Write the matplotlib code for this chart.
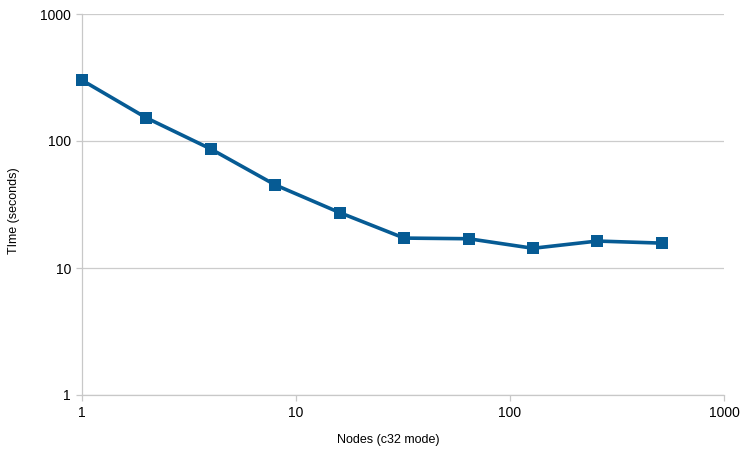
import matplotlib
matplotlib.use("Agg")
import matplotlib.pyplot as plt
from matplotlib.ticker import FixedLocator, NullLocator, FixedFormatter

nodes = [1, 2, 4, 8, 16, 32, 64, 128, 256, 512]
times = [301, 152, 86.5, 45.1, 27.3, 17.2, 17.0, 14.3, 16.3, 15.7]
ticks = [1, 10, 100, 1000]
tick_labels = ["1", "10", "100", "1000"]

plt.rcParams['font.family'] = ['Liberation Sans', 'DejaVu Sans']

fig = plt.figure(figsize=(7.42, 4.5), dpi=100)
ax = fig.add_axes([82/742, 55/450, (724-82)/742, (395-14)/450])

ax.plot(nodes, times, color='#065b94', lw=2.6, marker='s', markersize=8,
        markeredgewidth=0, solid_joinstyle='round', zorder=3, clip_on=False)

ax.set_xscale('log')
ax.set_yscale('log')
ax.set_xlim(1, 1000)
ax.set_ylim(1, 1000)
for axis in (ax.xaxis, ax.yaxis):
    axis.set_major_locator(FixedLocator(ticks))
    axis.set_major_formatter(FixedFormatter(tick_labels))
    axis.set_minor_locator(NullLocator())

ax.yaxis.grid(True, color='#cccccc', lw=0.9)
ax.set_axisbelow(True)
for s in ('top', 'right'):
    ax.spines[s].set_visible(False)
for s in ('left', 'bottom'):
    ax.spines[s].set_color('#c8c8c8')
    ax.spines[s].set_linewidth(0.9)
ax.tick_params(axis='both', colors='#c8c8c8', length=4, width=0.9,
               labelcolor='black', labelsize=10, pad=4)

ax.set_xlabel('Nodes (c32 mode)', fontsize=9)
ax.set_ylabel('TIme (seconds)', fontsize=9)
ax.xaxis.set_label_coords(388/742, 10/450, transform=fig.transFigure)
ax.yaxis.set_label_coords(14/742, (450-211)/450, transform=fig.transFigure)
ax.xaxis.label.set_va('center')
ax.yaxis.label.set_va('center')

fig.savefig('out.png', dpi=100)
